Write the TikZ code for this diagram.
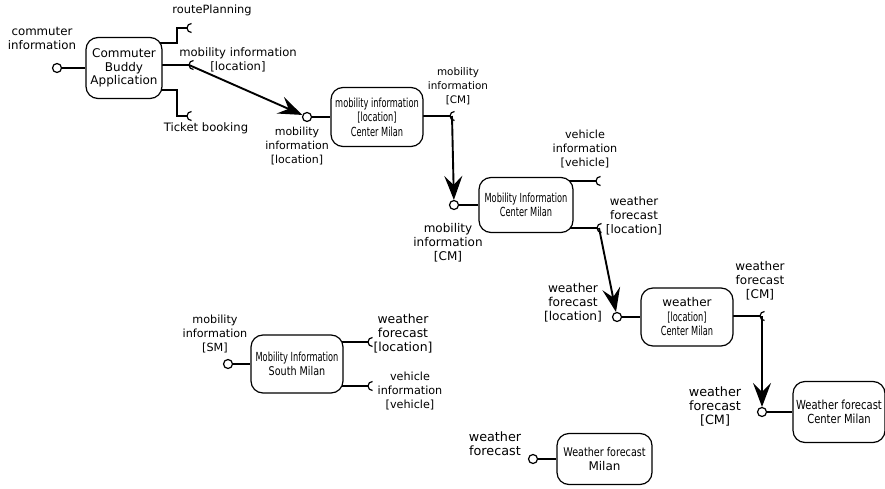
\documentclass[tikz,border=0pt]{standalone}
\usepackage{fontspec}
\setmainfont{DejaVu Sans}
\newfontfamily\condA[FakeStretch=0.66]{DejaVu Sans}
\newfontfamily\condB[FakeStretch=0.8]{DejaVu Sans}
\usetikzlibrary{arrows.meta,backgrounds}
\tikzset{
  comp/.style={draw, line width=1.2pt, rounded corners=12pt, fill=white, align=center,
    inner sep=0pt, font=\fontsize{12}{13.5}\selectfont},
  port/.style={draw, circle, line width=1.2pt, fill=white, inner sep=0pt, minimum size=9pt},
  lbl/.style={align=center, inner sep=0pt, font=\fontsize{#1}{14}\selectfont},
  lbl/.default=11.5,
  conn/.style={line width=1.2pt},
  flow/.style={line width=1.9pt, -{Stealth[length=24pt,width=18pt,inset=9pt]}},
  reqsock/.pic={\draw[line width=1.2pt] (4.5pt,4.5pt) arc[start angle=90,end angle=270,radius=4.5pt];}
}
\begin{document}
\begin{tikzpicture}[x=1pt,y=-1pt]
\useasboundingbox (0,0) rectangle (885,489);
% components
\node[comp, minimum width=76pt, minimum height=61pt] (cba) at (124,68) {Commuter\\Buddy\\Application};
\node[comp, minimum width=92pt, minimum height=59pt, font=\fontsize{12.5}{14.5}\selectfont\condA] (mil) at (377,117) {mobility information\\{[location]}\\Center Milan};
\node[comp, minimum width=94pt, minimum height=55pt, font=\fontsize{12.5}{14.5}\selectfont\condA] (micm) at (526,205) {Mobility Information\\Center Milan};
\node[comp, minimum width=92pt, minimum height=58pt, font=\fontsize{12}{14.5}\selectfont] (wl) at (687,317) {weather\\{\fontsize{12.5}{14.5}\selectfont\condA [location]}\\{\fontsize{12.5}{14.5}\selectfont\condA Center Milan}};
\node[comp, minimum width=92pt, minimum height=61pt, font=\fontsize{12.5}{14.5}\selectfont\condB] (wfc) at (839,412) {Weather forecast\\Center Milan};
\node[comp, minimum width=92pt, minimum height=58pt, font=\fontsize{12}{14.5}\selectfont] (mis) at (297,364) {{\fontsize{12.5}{14.5}\selectfont\condA Mobility Information}\\{\condB South Milan}};
\node[comp, minimum width=95pt, minimum height=51pt, font=\fontsize{12}{14.5}\selectfont] (wfm) at (604.5,459) {{\condB Weather forecast}\\Milan};
% provided ports
\node[port] (cbain) at (57,68) {};
\node[port] (milin) at (307,117) {};
\node[port] (micmin) at (454,205) {};
\node[port] (wlin) at (617,317) {};
\node[port] (wfcin) at (762,412) {};
\node[port] (misin) at (228,364) {};
\node[port] (wfmin) at (533,459) {};
% required ports (sockets)
\coordinate (rp) at (187,28);
\coordinate (rpb) at (177,43);
\coordinate (mi) at (189,65);
\coordinate (tb) at (187,116);
\coordinate (tbb) at (177,90);
\coordinate (milout) at (450,116);
\coordinate (vi) at (596,181);
\coordinate (wf) at (597,228);
\coordinate (wlout) at (760,316);
\coordinate (misa) at (368,342);
\coordinate (misb) at (368,386);
\foreach \s in {rp,mi,tb,milout,vi,wf,wlout,misa,misb}{\pic at (\s) {reqsock};}
% labels
\node[lbl=11.8] (lcba) at (42,38) {commuter\\information};
\node[lbl=11.4] (lrp) at (212,10) {routePlanning};
\node[lbl=11.6] (lmi) at (238,60) {mobility information\\{[location]}};
\node[lbl=11.6] (ltb) at (206,128) {Ticket booking};
\node[lbl=11] (lmilin) at (297,146) {mobility\\information\\{[location]}};
\node[lbl=10.4] (lmilout) at (458,86) {mobility\\information\\{[CM]}};
\node[lbl=12] (lmicmin) at (448,243) {mobility\\information\\{[CM]}};
\node[lbl=11.2] (lvi) at (585,149) {vehicle\\information\\{[vehicle]}};
\node[lbl=11.8] (lwf) at (634,216) {weather\\forecast\\{[location]}};
\node[lbl=12.2] (lwlin) at (573,303) {weather\\forecast\\{[location]}};
\node[lbl=12] (lwlout) at (760,281) {weather\\forecast\\{[CM]}};
\node[lbl=12.8] (lwfcin) at (715,406) {weather\\forecast\\{[CM]}};
\node[lbl=11.2] (lmisin) at (215,334) {mobility\\information\\{[SM]}};
\node[lbl=12.4] (lmisa) at (403,334) {weather\\forecast\\{[location]}};
\node[lbl=11.2] (lmisb) at (410,391) {vehicle\\information\\{[vehicle]}};
\node[lbl=12.8] (lwfmin) at (495,444) {weather\\forecast};
% connectors
\begin{scope}[on background layer]
\fill[white] (0,0) rectangle (885,489);
\draw[conn] (cbain) -- (cba);
\draw[conn] (rpb -| cba.center) -- (rpb) |- (rp);
\draw[conn] (mi -| cba.center) -- (mi);
\draw[conn] (tbb -| cba.center) -- (tbb) |- (tb);
\draw[conn] (milin) -- (mil);
\draw[conn] (milout -| mil.center) -- (milout);
\draw[conn] (micmin) -- (micm);
\draw[conn] (vi -| micm.center) -- (vi);
\draw[conn] (wf -| micm.center) -- (wf);
\draw[conn] (wlin) -- (wl);
\draw[conn] (wlout -| wl.center) -- (wlout);
\draw[conn] (wfcin) -- (wfc);
\draw[conn] (misin) -- (mis);
\draw[conn] (misa -| mis.center) -- (misa);
\draw[conn] (misb -| mis.center) -- (misb);
\draw[conn] (wfmin) -- (wfm);
\draw[flow] (mi) -- (milin);
\draw[flow] ([xshift=2pt]milout) -- (micmin);
\draw[flow] ([xshift=2pt]wf) -- (wlin);
\draw[flow] ([xshift=2pt]wlout) -- (wfcin);
\end{scope}
\end{tikzpicture}
\end{document}
